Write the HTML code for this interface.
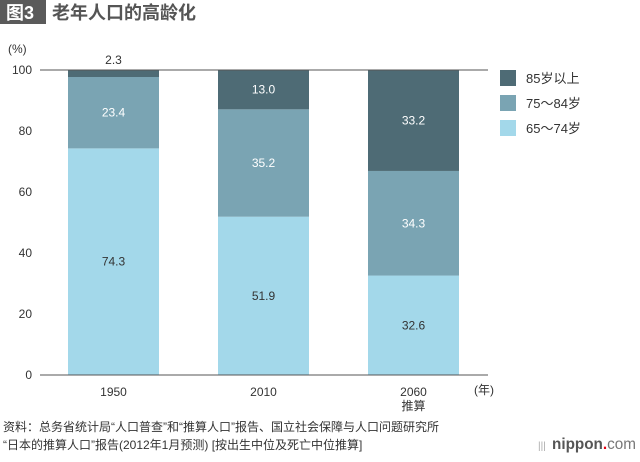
<!DOCTYPE html>
<html><head><meta charset="utf-8"><style>
body{margin:0;background:#fff;width:640px;height:457px;overflow:hidden;font-family:"Liberation Sans","Noto Sans CJK SC",sans-serif;}
</style></head><body>
<svg width="640" height="457" xmlns="http://www.w3.org/2000/svg" font-family="Liberation Sans, Noto Sans CJK SC, sans-serif">
<g>
<rect x="0" y="0" width="46" height="24" fill="#5a5a5a"/>
<text x="6" y="19" font-size="18" font-weight="bold" fill="#fff">图3</text>
<text x="52" y="19" font-size="18" font-weight="bold" fill="#555">老年人口的高龄化</text>
</g>
<text x="8" y="53" font-size="12" fill="#333">(%)</text>
<g id="yaxis"></g>
<g id="bars"></g>
<g id="xaxis"></g>
<text x="474" y="394" font-size="12" fill="#333">(年)</text>
<g id="legend"></g>
<g font-size="12" fill="#333">
<text x="3" y="431">资料：总务省统计局“人口普查”和“推算人口”报告、国立社会保障与人口问题研究所</text>
<text x="3" y="449">“日本的推算人口”报告(2012年1月预测) [按出生中位及死亡中位推算]</text>
</g>
<g>
<text x="538" y="449" font-size="10" fill="#aaa">|||</text>
<text x="552" y="449" font-size="16" font-weight="bold" fill="#555" textLength="84" lengthAdjust="spacingAndGlyphs">nippon<tspan fill="#e60012">.</tspan><tspan font-weight="normal" fill="#777">com</tspan></text>
</g>
</svg>
<script>
const categories=["1950","2010","2060"];
const sub=["","","推算"];
const young=[74.3,51.9,32.6];
const mid=[23.4,35.2,34.3];
const old=[2.3,13.0,33.2];
const ticks=[0,20,40,60,80,100];
const colors=["#a3d8ea","#7aa4b3","#4e6b75"];
const names=["65～74岁","75～84岁","85岁以上"];
const NS="http://www.w3.org/2000/svg";
const y0=375,y1=70;
const y=v=>y0-(y0-y1)*v/100;
const barX=[68,218,368],barW=91;
function el(t,a,p){const e=document.createElementNS(NS,t);for(const k in a)e.setAttribute(k,a[k]);p.appendChild(e);return e;}
const ya=document.getElementById('yaxis');
ticks.forEach(t=>{
 const tx=el('text',{x:32,y:y(t)+4,'font-size':12,fill:'#333','text-anchor':'end'},ya);tx.textContent=t;
 
 
});
const bg=document.getElementById('bars');
const series=[young,mid,old];
categories.forEach((c,i)=>{
 let base=0;
 series.forEach((s,j)=>{
  const v=s[i];
  const r=el('rect',{x:barX[i],y:y(base+v),width:barW,height:y(base)-y(base+v),fill:colors[j]},bg);
  
  
  const mid=y(base+v/2)+4;
  const small=v<5;
  const t=el('text',{x:barX[i]+barW/2,y:small?y(base+v)-6:mid,'font-size':12,fill:j==0?'#333':'#fff','text-anchor':'middle'},bg);
  if(small)t.setAttribute('fill','#333');
  t.textContent=v.toFixed(1);
  
  
  base+=v;
 });
});
const xa=document.getElementById('xaxis');
const ax=el('line',{x1:40,x2:488,y1:y0,y2:y0,stroke:'#555','stroke-width':1},xa);


const tl=el('line',{x1:40,x2:488,y1:y1,y2:y1,stroke:'#555','stroke-width':1},xa);


categories.forEach((c,i)=>{
 const t=el('text',{x:barX[i]+barW/2,y:396,'font-size':12,fill:'#333','text-anchor':'middle'},xa);t.textContent=c;
 
 
 if(sub[i]){const s=el('text',{x:barX[i]+barW/2,y:410,'font-size':12,fill:'#333','text-anchor':'middle'},xa);s.textContent=sub[i];
 
 }
});
const lg=document.getElementById('legend');
[2,1,0].forEach((j,k)=>{
 const r=el('rect',{x:500,y:70+k*25,width:16,height:16,fill:colors[j]},lg);
 
 
 const t=el('text',{x:526,y:83+k*25,'font-size':13,fill:'#333'},lg);t.textContent=names[j];
 
 
});
</script>
</body></html>
